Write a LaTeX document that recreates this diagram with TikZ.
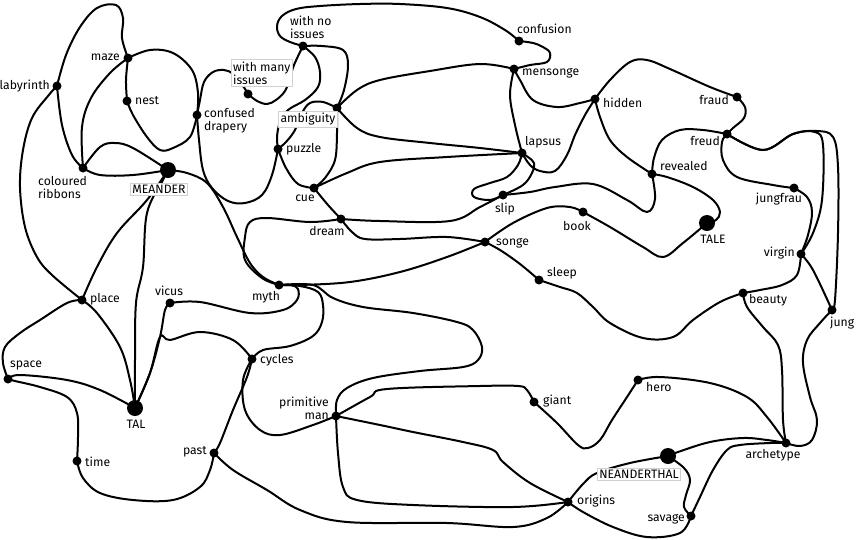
\documentclass[tikz,border=0pt]{standalone}
\usepackage{fontspec}
\setmainfont{Fira Sans}
\pgfdeclarelayer{paper}
\pgfdeclarelayer{bg}
\pgfsetlayers{paper,bg,main}
\begin{document}
\begin{tikzpicture}[x=1pt,y=-1pt,
  link/.style={line width=2pt,line cap=round,line join=round},
  dot/.style={circle,fill=black,inner sep=0pt,minimum size=9pt},
  bigdot/.style={dot,minimum size=16pt},
  lbl/.style={font=\fontsize{12.2}{13}\selectfont,inner sep=1pt},
  boxlbl/.style={lbl,draw=black!18,fill=white,inner sep=2pt}]
\begin{pgfonlayer}{paper}
\fill[white] (0,0) rectangle (857,539);
\end{pgfonlayer}
\useasboundingbox (0,0) rectangle (857,539);
% dots
\node[dot] (lab) at (57,86) {};
\node[dot] (maze) at (128,58) {};
\node[dot] (nest) at (127,101) {};
\node[dot] (drap) at (197,115) {};
\node[dot] (many) at (248,94) {};
\node[dot] (noiss) at (303,46) {};
\node[dot] (amb) at (337,108) {};
\node[dot] (puz) at (278,149) {};
\node[dot] (cue) at (314,188) {};
\node[dot] (dream) at (341,219) {};
\node[dot] (conf) at (519,41) {};
\node[dot] (mens) at (514,69) {};
\node[dot] (hid) at (595,99) {};
\node[dot] (lap) at (522,153) {};
\node[dot] (slip) at (503,195) {};
\node[dot] (book) at (583,212) {};
\node[dot] (songe) at (485,242) {};
\node[dot] (sleep) at (539,280) {};
\node[dot] (fraud) at (737,97) {};
\node[dot] (freud) at (727,134) {};
\node[dot] (rev) at (652,174) {};
\node[bigdot] (tale) at (707,223) {};
\node[dot] (jf) at (794,188) {};
\node[dot] (virg) at (801,254) {};
\node[dot] (beau) at (743,293) {};
\node[dot] (jung) at (832,310) {};
\node[bigdot] (mea) at (168,170) {};
\node[dot] (rib) at (83,168) {};
\node[dot] (myth) at (279,285) {};
\node[dot] (place) at (82,300) {};
\node[dot] (vicus) at (170,303) {};
\node[dot] (cyc) at (252,359) {};
\node[dot] (space) at (8,379) {};
\node[bigdot] (tal) at (135,408) {};
\node[dot] (time) at (77,461) {};
\node[dot] (past) at (214,453) {};
\node[dot] (pm) at (336,416) {};
\node[dot] (giant) at (534,402) {};
\node[dot] (hero) at (638,380) {};
\node[dot] (arch) at (786,443) {};
\node[bigdot] (nea) at (668,456) {};
\node[dot] (orig) at (568,502) {};
\node[dot] (sav) at (691,516) {};
% links
\begin{pgfonlayer}{bg}
\tikzset{every plot/.style={smooth,tension=0.6}}
\draw[link] plot coordinates {(lab.center) (66,55) (80,27) (97,8) (116,5) (123,18) (122,38) (maze.center)};
\draw[link] plot coordinates {(lab.center) (62,125) (72,155) (rib.center)};
\draw[link] plot coordinates {(lab.center) (48,96) (32,118) (23,150) (20,187) (25,227) (37,257) (52,275) (place.center)};
\draw[link] plot coordinates {(maze.center) (126,80) (nest.center)};
\draw[link] plot coordinates {(maze.center) (110,73) (91,98) (82,127) (rib.center)};
\draw[link] plot coordinates {(maze.center) (150,50) (173,53) (192,70) (198,93) (drap.center)};
\draw[link] plot coordinates {(nest.center) (133,115) (147,137) (160,150) (173,148) (190,137) (drap.center)};
\draw[link] plot coordinates {(rib.center) (100,175) (133,175) (mea.center)};
\draw[link] plot coordinates {(rib.center) (100,147) (115,143) (133,148) (mea.center)};
\draw[link] plot coordinates {(mea.center) (147,200) (117,233) (97,267) (place.center)};
\draw[link] plot coordinates {(mea.center) (163,180) (147,213) (143,267) (136,303) (135,360) (tal.center)};
\draw[link] plot coordinates {(mea.center) (187,173) (207,183) (223,207) (237,237) (250,263) (263,277) (myth.center)};
\draw[link] plot coordinates {(drap.center) (200,100) (204,82) (213,72) (224,70) (233,74) (243,86) (many.center)};
\draw[link] plot coordinates {(drap.center) (199,140) (203,170) (212,188) (228,201) (245,203) (262,195) (272,175) (puz.center)};
\draw[link] plot coordinates {(many.center) (257,101) (267,104) (276,100) (285,91) (290,78) (294,65) (noiss.center)};
\draw[link] plot coordinates {(noiss.center) (315,57) (320,72) (318,87) (305,100) (288,110) (280,122) (277,137) (puz.center)};
\draw[link] plot coordinates {(noiss.center) (322,46) (343,50) (348,65) (344,90) (amb.center)};
\draw[link] plot coordinates {(noiss.center) (290,42) (280,36) (277,26) (282,16) (296,9) (320,6) (360,4) (400,4) (447,8) (480,17) (505,30) (conf.center)};
\draw[link] plot coordinates {(amb.center) (323,102) (310,103) (302,113) (295,130) (286,142) (puz.center)};
\draw[link] plot coordinates {(amb.center) (337,133) (335,160) (325,178) (cue.center)};
\draw[link] plot coordinates {(amb.center) (357,90) (380,80) (430,71) (480,64) (mens.center)};
\draw[link] plot coordinates {(amb.center) (357,128) (380,137) (430,143) (480,148) (lap.center)};
\draw[link] plot coordinates {(puz.center) (286,168) (298,184) (cue.center)};
\draw[link] plot coordinates {(cue.center) (347,173) (380,162) (447,157) (lap.center)};
\draw[link] plot coordinates {(cue.center) (328,205) (dream.center)};
\draw[link] plot coordinates {(dream.center) (310,222) (267,218) (250,222) (245,237) (245,260) (262,278) (myth.center)};
\draw[link] plot coordinates {(dream.center) (380,221) (450,221) (480,207) (slip.center)};
\draw[link] plot coordinates {(dream.center) (352,232) (365,239) (400,239) (447,237) (songe.center)};
\draw[link] plot coordinates {(songe.center) (500,250) (520,264) (sleep.center)};
\draw[link] plot coordinates {(songe.center) (513,223) (547,208) (570,207) (book.center)};
\draw[link] plot coordinates {(myth.center) (300,285) (350,282) (400,272) (447,257) (songe.center)};
\draw[link] plot coordinates {(book.center) (610,227) (643,247) (663,257) (683,243) (tale.center)};
\draw[link] plot coordinates {(rev.center) (667,177) (693,187) (713,200) (720,212) (716,220) (tale.center)};
\draw[link] plot coordinates {(slip.center) (523,185) (532,173) (534,163) (528,157) (lap.center)};
\draw[link] plot coordinates {(slip.center) (490,200) (474,197) (474,189) (490,183) (507,177) (518,165) (lap.center)};
\draw[link] plot coordinates {(slip.center) (530,192) (555,187) (593,184) (627,200) (647,212) (655,199) (rev.center)};
\draw[link] plot coordinates {(lap.center) (515,125) (510,95) (mens.center)};
\draw[link] plot coordinates {(lap.center) (530,165) (540,171) (555,171) (567,155) (575,135) (585,115) (hid.center)};
\draw[link] plot coordinates {(mens.center) (530,65) (547,62) (550,53) (543,47) (533,43) (conf.center)};
\draw[link] plot coordinates {(mens.center) (520,80) (533,100) (557,107) (580,103) (hid.center)};
\draw[link] plot coordinates {(hid.center) (610,80) (630,62) (647,60) (670,69) (710,87) (fraud.center)};
\draw[link] plot coordinates {(hid.center) (600,117) (610,140) (627,157) (rev.center)};
\draw[link] plot coordinates {(fraud.center) (745,107) (744,118) (733,128) (freud.center)};
\draw[link] plot coordinates {(freud.center) (703,130) (680,130) (662,140) (654,158) (rev.center)};
\draw[link] plot coordinates {(freud.center) (722,142) (723,160) (737,177) (773,185) (jf.center)};
\draw[link] plot coordinates {(freud.center) (763,150) (793,134) (815,132) (823,145) (822,200) (813,233) (virg.center)};
\draw[link] plot coordinates {(freud.center) (763,150) (793,134) (817,131) (833,137) (838,167) (838,233) (835,300) (jung.center)};
\draw[link] plot coordinates {(jf.center) (807,197) (812,212) (808,235) (virg.center)};
\draw[link] plot coordinates {(virg.center) (797,275) (782,285) (760,290) (beau.center)};
\draw[link] plot coordinates {(virg.center) (813,270) (jung.center)};
\draw[link] plot coordinates {(sleep.center) (560,287) (577,293) (593,307) (610,323) (643,338) (673,337) (693,320) (720,302) (beau.center)};
\draw[link] plot coordinates {(beau.center) (747,307) (763,327) (778,345) (782,370) (783,420) (arch.center)};
\draw[link] plot coordinates {(jung.center) (820,323) (807,340) (803,363) (810,397) (817,420) (812,440) (800,446) (arch.center)};
\draw[link] plot coordinates {(hero.center) (660,377) (710,383) (747,397) (767,417) (arch.center)};
\draw[link] plot coordinates {(nea.center) (678,452) (710,442) (743,438) (767,440) (arch.center)};
\draw[link] plot coordinates {(sav.center) (700,497) (713,470) (727,450) (740,445) (770,443) (arch.center)};
\draw[link] plot coordinates {(hero.center) (627,397) (612,420) (600,440) (588,448) (578,445) (557,423) (giant.center)};
\draw[link] plot coordinates {(giant.center) (527,390) (518,386) (480,386) (387,389) (370,397) (pm.center)};
\draw[link] plot coordinates {(pm.center) (313,425) (280,435) (260,430) (245,410) (243,380) (cyc.center)};
\draw[link] plot coordinates {(myth.center) (313,285) (333,298) (363,307) (413,313) (457,322) (473,330) (482,347) (478,360) (463,367) (420,371) (373,378) (347,388) (337,400) (pm.center)};
\draw[link] plot coordinates {(pm.center) (380,425) (413,432) (463,442) (493,450) (503,462) (530,483) (orig.center)};
\draw[link] plot coordinates {(pm.center) (338,453) (343,487) (357,500) (413,505) (513,507) (orig.center)};
\draw[link] plot coordinates {(past.center) (233,470) (267,490) (300,510) (347,522) (447,523) (513,527) (547,518) (orig.center)};
\draw[link] plot coordinates {(orig.center) (583,484) (597,473) (630,463) (nea.center)};
\draw[link] plot coordinates {(orig.center) (583,512) (613,527) (647,537) (680,533) (sav.center)};
\draw[link] plot coordinates {(nea.center) (684,468) (690,480) (686,495) (684,507) (sav.center)};
\draw[link] plot coordinates {(past.center) (220,443) (233,410) (247,377) (cyc.center)};
\draw[link] plot coordinates {(past.center) (210,470) (200,487) (173,500) (133,500) (100,493) (83,478) (time.center)};
\draw[link] plot coordinates {(time.center) (78,437) (77,413) (67,397) (40,387) (15,381) (space.center)};
\draw[link] plot coordinates {(space.center) (20,375) (67,380) (100,390) (tal.center)};
\draw[link] plot coordinates {(space.center) (3,363) (5,347) (20,333) (40,320) (67,303) (place.center)};
\draw[link] plot coordinates {(place.center) (97,313) (120,347) (130,380) (tal.center)};
\draw[link] plot coordinates {(tal.center) (150,373) (160,337) (165,310) (vicus.center)};
\draw[link] plot coordinates {(tal.center) (150,373) (160,337) (170,340) (200,332) (233,340) (cyc.center)};
\draw[link] plot coordinates {(vicus.center) (200,302) (250,313) (283,310) (297,300) (298,289) (291,285) (myth.center)};
\draw[link] plot coordinates {(myth.center) (300,286) (318,292) (323,305) (322,322) (313,336) (290,346) (263,350) (cyc.center)};
\end{pgfonlayer}
% labels
\node[lbl,anchor=east] (t-lab) at (51,86) {labyrinth};
\node[lbl,anchor=east] (t-maze) at (121,57) {maze};
\node[lbl,anchor=west] (t-nest) at (134,101) {nest};
\node[lbl,anchor=west,align=left] (t-drap) at (203,121) {confused\\drapery};
\node[boxlbl,anchor=west,align=left] (t-many) at (231,73) {with many\\issues};
\node[lbl,anchor=west,align=left] (t-noiss) at (289,27) {with no\\issues};
\node[boxlbl] (t-amb) at (308,119) {ambiguity};
\node[lbl,anchor=west] (t-puz) at (285,149) {puzzle};
\node[lbl] (t-cue) at (305,198) {cue};
\node[lbl] (t-dream) at (327,231) {dream};
\node[lbl,anchor=west] (t-conf) at (516,29) {confusion};
\node[lbl,anchor=west] (t-mens) at (521,73) {mensonge};
\node[lbl,anchor=west] (t-hid) at (602,103) {hidden};
\node[lbl,anchor=west] (t-lap) at (524,142) {lapsus};
\node[lbl] (t-slip) at (505,209) {slip};
\node[lbl] (t-book) at (577,226) {book};
\node[lbl,anchor=west] (t-songe) at (495,243) {songe};
\node[lbl,anchor=west] (t-sleep) at (546,273) {sleep};
\node[lbl,anchor=east] (t-fraud) at (730,100) {fraud};
\node[lbl,anchor=east] (t-freud) at (721,141) {freud};
\node[lbl,anchor=west] (t-rev) at (659,166) {revealed};
\node[lbl] (t-tale) at (713,239) {TALE};
\node[lbl] (t-jf) at (779,199) {jungfrau};
\node[lbl,anchor=east] (t-virg) at (796,253) {virgin};
\node[lbl,anchor=west] (t-beau) at (748,300) {beauty};
\node[lbl,anchor=west] (t-jung) at (829,323) {jung};
\node[boxlbl] (t-mea) at (159,189) {MEANDER};
\node[lbl,anchor=west,align=left] (t-rib) at (37,187) {coloured\\ribbons};
\node[lbl] (t-myth) at (266,297) {myth};
\node[lbl,anchor=west] (t-place) at (89,299) {place};
\node[lbl] (t-vicus) at (169,291) {vicus};
\node[lbl,anchor=west] (t-cyc) at (259,360) {cycles};
\node[lbl,anchor=west] (t-space) at (9,366) {space};
\node[lbl] (t-tal) at (136,424) {TAL};
\node[lbl,anchor=west] (t-time) at (84,462) {time};
\node[lbl,anchor=east] (t-past) at (208,452) {past};
\node[lbl,anchor=east,align=right] (t-pm) at (330,408) {primitive\\man};
\node[lbl,anchor=west] (t-giant) at (542,401) {giant};
\node[lbl,anchor=west] (t-hero) at (645,387) {hero};
\node[lbl] (t-arch) at (773,455) {archetype};
\node[boxlbl] (t-nea) at (639,474) {NEANDERTHAL};
\node[lbl,anchor=west] (t-orig) at (576,501) {origins};
\node[lbl,anchor=east] (t-sav) at (686,519) {savage};
\end{tikzpicture}
\end{document}
